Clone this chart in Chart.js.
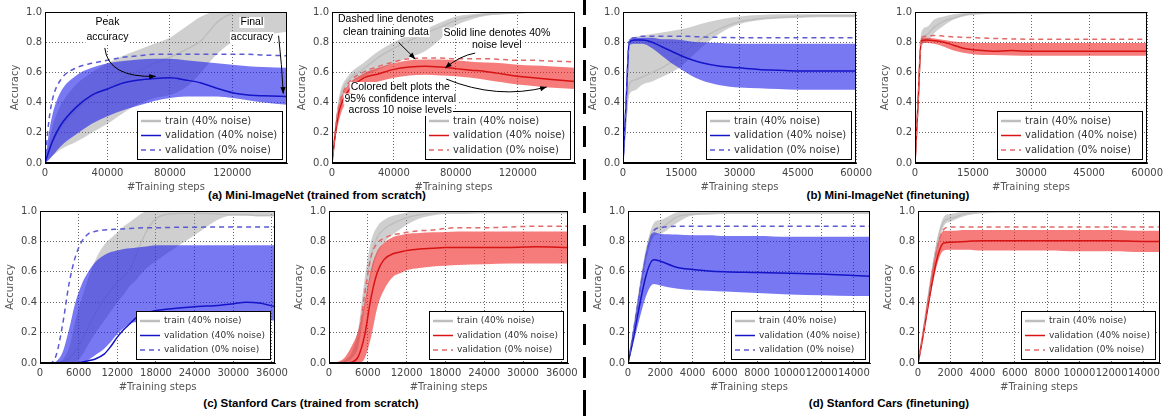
<!DOCTYPE html>
<html>
<head>
<meta charset="utf-8">
<script src="https://cdn.jsdelivr.net/npm/chart.js@4.4.1/dist/chart.umd.min.js"></script>
<style>
  body { margin: 0; width: 1172px; height: 416px; background: #fff; position: relative; overflow: hidden; font-family: "Liberation Sans", Arial, sans-serif; }
  canvas { position: absolute; }
  .cap { position: absolute; font-weight: bold; font-size: 11.5px; white-space: nowrap; transform: translate(-50%, -50%); color: #000; }
  .sep { position: absolute; left: 583px; top: 0; width: 3px; height: 416px;
         background: repeating-linear-gradient(to bottom, #000 0, #000 21px, transparent 21px, transparent 33px);
         background-position: 0 -6px; }
</style>
</head>
<body>
<div class="sep"></div>
<div class="cap" style="left:317px;top:195px">(a) Mini-ImageNet (trained from scratch)</div>
<div class="cap" style="left:888px;top:195px">(b) Mini-ImageNet (finetuning)</div>
<div class="cap" style="left:311px;top:403px">(c) Stanford Cars (trained from scratch)</div>
<div class="cap" style="left:889px;top:403px">(d) Stanford Cars (finetuning)</div>
<script>
// legend labels, same in every panel
const legendLabels = ["train (40% noise)", "validation (40% noise)", "validation (0% noise)"];

// tick values
const yTicks = [0, 0.2, 0.4, 0.6, 0.8, 1.0];
const aTicks = [0, 40000, 80000, 120000];
const bTicks = [0, 15000, 30000, 45000, 60000];
const cTicks = [0, 6000, 12000, 18000, 24000, 30000, 36000];
const dTicks = [0, 2000, 4000, 6000, 8000, 10000, 12000, 14000];

// (a) Mini-ImageNet from scratch, left (blue)
const a1Steps   = [0, 2500, 5000, 10000, 20000, 30000, 40000, 50000, 60000, 70000, 80000, 90000, 100000, 110000, 120000, 130000, 140000, 155000];
const a1Train   = [0, 0.08, 0.14, 0.23, 0.35, 0.44, 0.5, 0.56, 0.61, 0.66, 0.7, 0.75, 0.81, 0.93, 0.99, 1, 1, 1];
const a1TrainLo = [0, 0.03, 0.05, 0.09, 0.14, 0.2, 0.26, 0.33, 0.39, 0.43, 0.45, 0.5, 0.6, 0.72, 0.8, 0.83, 0.85, 0.87];
const a1TrainHi = [0, 0.14, 0.25, 0.38, 0.52, 0.6, 0.66, 0.71, 0.75, 0.79, 0.83, 0.9, 0.97, 1, 1, 1, 1, 1];
const a1Noisy   = [0, 0.08, 0.15, 0.25, 0.37, 0.45, 0.49, 0.53, 0.55, 0.56, 0.565, 0.55, 0.53, 0.495, 0.465, 0.45, 0.445, 0.44];
const a1NoisyLo = [0, 0.02, 0.05, 0.11, 0.19, 0.26, 0.31, 0.35, 0.38, 0.41, 0.43, 0.44, 0.44, 0.44, 0.43, 0.415, 0.4, 0.385];
const a1NoisyHi = [0, 0.2, 0.33, 0.47, 0.58, 0.63, 0.66, 0.675, 0.685, 0.69, 0.69, 0.68, 0.67, 0.66, 0.65, 0.64, 0.635, 0.63];
const a1Clean   = [0, 0.28, 0.43, 0.55, 0.63, 0.66, 0.68, 0.7, 0.71, 0.72, 0.72, 0.72, 0.72, 0.72, 0.72, 0.72, 0.715, 0.71];

// (a) Mini-ImageNet from scratch, right (red)
const a2Steps   = [0, 2500, 5000, 10000, 20000, 30000, 40000, 50000, 60000, 70000, 80000, 90000, 100000, 110000, 120000, 130000, 140000, 157000];
const a2Train   = [0, 0.25, 0.42, 0.54, 0.62, 0.7, 0.76, 0.81, 0.86, 0.9, 0.945, 0.97, 0.985, 0.99, 0.995, 1, 1, 1];
const a2TrainLo = [0, 0.22, 0.38, 0.5, 0.57, 0.62, 0.66, 0.7, 0.74, 0.82, 0.91, 0.95, 0.975, 0.985, 0.99, 0.995, 0.995, 0.995];
const a2TrainHi = [0, 0.28, 0.46, 0.57, 0.66, 0.74, 0.8, 0.85, 0.885, 0.93, 0.97, 0.985, 0.995, 1, 1, 1, 1, 1];
const a2Noisy   = [0, 0.22, 0.36, 0.47, 0.56, 0.59, 0.62, 0.635, 0.64, 0.635, 0.625, 0.615, 0.605, 0.59, 0.575, 0.565, 0.555, 0.54];
const a2NoisyLo = [0, 0.18, 0.3, 0.42, 0.5, 0.54, 0.565, 0.58, 0.585, 0.58, 0.575, 0.565, 0.55, 0.535, 0.52, 0.51, 0.5, 0.49];
const a2NoisyHi = [0, 0.25, 0.4, 0.51, 0.59, 0.63, 0.66, 0.68, 0.685, 0.685, 0.68, 0.67, 0.665, 0.66, 0.65, 0.645, 0.64, 0.63];
const a2Clean   = [0, 0.25, 0.4, 0.52, 0.6, 0.64, 0.67, 0.69, 0.695, 0.695, 0.69, 0.69, 0.69, 0.685, 0.68, 0.68, 0.675, 0.67];

// (b) Mini-ImageNet finetuning
const bSteps    = [0, 800, 1600, 3000, 5000, 7500, 10000, 12500, 15000, 17500, 20000, 25000, 30000, 35000, 40000, 45000, 50000, 60000];
const b1Train   = [0, 0.3, 0.52, 0.55, 0.57, 0.6, 0.63, 0.67, 0.71, 0.77, 0.82, 0.89, 0.935, 0.955, 0.965, 0.97, 0.975, 0.975];
const b1TrainLo = [0, 0.25, 0.45, 0.48, 0.52, 0.54, 0.57, 0.6, 0.64, 0.7, 0.76, 0.86, 0.92, 0.945, 0.955, 0.96, 0.965, 0.965];
const b1TrainHi = [0, 0.4, 0.8, 0.835, 0.845, 0.855, 0.865, 0.875, 0.885, 0.9, 0.92, 0.95, 0.97, 0.98, 0.985, 0.985, 0.985, 0.985];
const b1Noisy   = [0, 0.4, 0.8, 0.815, 0.815, 0.8, 0.77, 0.74, 0.71, 0.685, 0.665, 0.64, 0.63, 0.62, 0.615, 0.61, 0.61, 0.61];
const b1NoisyLo = [0, 0.39, 0.78, 0.79, 0.79, 0.76, 0.71, 0.66, 0.62, 0.58, 0.55, 0.515, 0.5, 0.495, 0.49, 0.485, 0.485, 0.485];
const b1NoisyHi = [0, 0.41, 0.82, 0.83, 0.83, 0.83, 0.82, 0.82, 0.815, 0.805, 0.8, 0.795, 0.79, 0.79, 0.79, 0.79, 0.79, 0.79];
const b1Clean   = [0, 0.4, 0.81, 0.83, 0.84, 0.84, 0.84, 0.84, 0.84, 0.838, 0.835, 0.832, 0.83, 0.83, 0.83, 0.83, 0.83, 0.83];

const b2Train   = [0, 0.4, 0.8, 0.85, 0.9, 0.94, 0.96, 0.98, 0.99, 0.992, 0.993, 0.994, 0.995, 0.995, 0.995, 0.995, 0.995, 0.995];
const b2TrainLo = [0, 0.38, 0.76, 0.8, 0.86, 0.91, 0.95, 0.97, 0.98, 0.985, 0.99, 0.99, 0.99, 0.99, 0.99, 0.99, 0.99, 0.99];
const b2TrainHi = [0, 0.43, 0.86, 0.9, 0.95, 0.97, 0.985, 0.995, 1, 1, 1, 1, 1, 1, 1, 1, 1, 1];
const b2Noisy   = [0, 0.4, 0.81, 0.815, 0.81, 0.8, 0.78, 0.76, 0.75, 0.745, 0.74, 0.745, 0.74, 0.74, 0.74, 0.74, 0.74, 0.74];
const b2NoisyLo = [0, 0.39, 0.79, 0.795, 0.79, 0.77, 0.745, 0.73, 0.72, 0.715, 0.715, 0.712, 0.71, 0.71, 0.71, 0.71, 0.71, 0.71];
const b2NoisyHi = [0, 0.41, 0.83, 0.83, 0.825, 0.815, 0.805, 0.8, 0.795, 0.795, 0.795, 0.795, 0.795, 0.795, 0.795, 0.795, 0.795, 0.795];
const b2Clean   = [0, 0.4, 0.83, 0.84, 0.845, 0.84, 0.835, 0.832, 0.83, 0.828, 0.825, 0.822, 0.82, 0.82, 0.82, 0.82, 0.82, 0.82];

// (c) Stanford Cars from scratch
const c1Steps   = [0, 1500, 2500, 3500, 4500, 5500, 6500, 7500, 8500, 10000, 11000, 12000, 13000, 14000, 15000, 16000, 17000, 18000, 20000, 24000, 28000, 30000, 32000, 34000, 36500];
const c1Train   = [0, 0, 0, 0.01, 0.03, 0.08, 0.15, 0.24, 0.32, 0.42, 0.48, 0.53, 0.57, 0.62, 0.72, 0.82, 0.9, 0.95, 0.98, 0.985, 0.98, 0.975, 0.975, 0.97, 0.97];
const c1TrainLo = [0, 0, 0, 0, 0, 0.005, 0.05, 0.12, 0.19, 0.28, 0.34, 0.4, 0.45, 0.51, 0.55, 0.6, 0.64, 0.67, 0.73, 0.84, 0.95, 0.97, 0.97, 0.965, 0.965];
const c1TrainHi = [0, 0, 0, 0.02, 0.1, 0.28, 0.43, 0.56, 0.67, 0.78, 0.82, 0.86, 0.9, 0.93, 0.96, 0.99, 1, 1, 1, 1, 1, 1, 1, 1, 1];
const c1Noisy   = [0, 0, 0, 0, 0, 0, 0.005, 0.015, 0.025, 0.06, 0.11, 0.17, 0.22, 0.26, 0.3, 0.32, 0.335, 0.345, 0.355, 0.37, 0.38, 0.39, 0.4, 0.395, 0.37];
const c1NoisyLo = [0, 0, 0, 0, 0, 0, 0, 0.02, 0.05, 0.095, 0.14, 0.19, 0.23, 0.26, 0.27, 0.275, 0.28, 0.28, 0.28, 0.28, 0.28, 0.28, 0.28, 0.28, 0.28];
const c1NoisyHi = [0, 0, 0.01, 0.07, 0.22, 0.4, 0.52, 0.6, 0.66, 0.71, 0.73, 0.74, 0.75, 0.755, 0.76, 0.765, 0.77, 0.775, 0.775, 0.775, 0.775, 0.775, 0.775, 0.775, 0.775];
const c1Clean   = [0, 0, 0.05, 0.25, 0.52, 0.7, 0.8, 0.85, 0.865, 0.875, 0.878, 0.88, 0.882, 0.885, 0.887, 0.89, 0.89, 0.89, 0.892, 0.893, 0.895, 0.895, 0.895, 0.895, 0.895];

const c2Steps   = [0, 1500, 2500, 3500, 4500, 5500, 6500, 7500, 8500, 10000, 11000, 12000, 14000, 16000, 18000, 20000, 24000, 28000, 32000, 37000];
const c2Train   = [0, 0, 0.01, 0.04, 0.15, 0.45, 0.7, 0.83, 0.88, 0.92, 0.94, 0.955, 0.975, 0.985, 0.99, 0.99, 0.99, 0.99, 0.99, 0.99];
const c2TrainLo = [0, 0, 0.005, 0.03, 0.1, 0.35, 0.58, 0.72, 0.79, 0.85, 0.88, 0.91, 0.95, 0.97, 0.98, 0.98, 0.985, 0.985, 0.985, 0.985];
const c2TrainHi = [0, 0, 0.02, 0.07, 0.22, 0.55, 0.8, 0.9, 0.94, 0.97, 0.98, 0.99, 1, 1, 1, 1, 1, 1, 1, 1];
const c2Noisy   = [0, 0, 0, 0.005, 0.04, 0.18, 0.43, 0.6, 0.68, 0.72, 0.73, 0.74, 0.75, 0.755, 0.76, 0.76, 0.76, 0.76, 0.765, 0.76];
const c2NoisyLo = [0, 0, 0, 0, 0, 0.03, 0.17, 0.37, 0.48, 0.57, 0.59, 0.61, 0.625, 0.635, 0.64, 0.645, 0.65, 0.655, 0.655, 0.655];
const c2NoisyHi = [0, 0.01, 0.04, 0.11, 0.21, 0.4, 0.62, 0.74, 0.79, 0.83, 0.84, 0.85, 0.855, 0.86, 0.862, 0.865, 0.865, 0.865, 0.865, 0.865];
const c2Clean   = [0, 0, 0.01, 0.04, 0.15, 0.45, 0.7, 0.79, 0.82, 0.845, 0.85, 0.86, 0.87, 0.875, 0.885, 0.89, 0.89, 0.895, 0.9, 0.9];

// (d) Stanford Cars finetuning
const dSteps    = [0, 1600, 2000, 3000, 4000, 5000, 6000, 8000, 10000, 12000, 14000, 15000];
const d1Train   = [0, 0.88, 0.89, 0.96, 0.98, 0.985, 0.99, 0.99, 0.99, 0.99, 0.99, 0.99];
const d1TrainLo = [0, 0.83, 0.85, 0.92, 0.97, 0.975, 0.98, 0.98, 0.98, 0.98, 0.98, 0.98];
const d1TrainHi = [0, 0.92, 0.94, 0.99, 1, 1, 1, 1, 1, 1, 1, 1];
const d1Noisy   = [0, 0.68, 0.67, 0.63, 0.615, 0.605, 0.6, 0.595, 0.59, 0.585, 0.575, 0.57];
const d1NoisyLo = [0, 0.52, 0.51, 0.49, 0.48, 0.475, 0.47, 0.46, 0.45, 0.445, 0.44, 0.44];
const d1NoisyHi = [0, 0.86, 0.85, 0.845, 0.84, 0.84, 0.835, 0.835, 0.83, 0.83, 0.83, 0.83];
const d1Clean   = [0, 0.87, 0.89, 0.9, 0.9, 0.9, 0.9, 0.9, 0.9, 0.9, 0.9, 0.9];

const d2Train   = [0, 0.93, 0.95, 0.985, 0.99, 0.995, 0.995, 0.995, 0.995, 0.995, 0.995, 0.995];
const d2TrainLo = [0, 0.9, 0.93, 0.97, 0.985, 0.99, 0.99, 0.99, 0.99, 0.99, 0.99, 0.99];
const d2TrainHi = [0, 0.96, 0.98, 1, 1, 1, 1, 1, 1, 1, 1, 1];
const d2Noisy   = [0, 0.79, 0.795, 0.8, 0.805, 0.805, 0.805, 0.805, 0.805, 0.805, 0.8, 0.8];
const d2NoisyLo = [0, 0.74, 0.745, 0.745, 0.74, 0.74, 0.74, 0.74, 0.735, 0.735, 0.73, 0.73];
const d2NoisyHi = [0, 0.87, 0.87, 0.875, 0.875, 0.875, 0.875, 0.875, 0.875, 0.875, 0.87, 0.87];
const d2Clean   = [0, 0.88, 0.895, 0.895, 0.895, 0.895, 0.895, 0.895, 0.895, 0.895, 0.895, 0.895];

// annotations, placed in data coordinates
const a1Notes = {
  labels: [
    {at: [40000, 0.93], text: ["Peak", "accuracy"], lineHeight: 15},
    {at: [132500, 0.93], text: ["Final", "accuracy"], lineHeight: 15}
  ],
  arrows: [
    {from: [38300, 0.762], via: [40400, 0.563], to: [70900, 0.574]},
    {from: [149600, 0.843], via: [151700, 0.651], to: [152600, 0.459]}
  ]
};
const a2Notes = {
  labels: [
    {at: [34800, 0.956], text: ["Dashed line denotes", "clean training data"], lineHeight: 13},
    {at: [106500, 0.861], text: ["Solid line denotes 40%", "noise level"], lineHeight: 12.5},
    {at: [44100, 0.5], text: ["Colored belt plots the", "95% confidence interval", "across 10 noise levels"], lineHeight: 11.5}
  ],
  arrows: [
    {from: [43000, 0.799], via: [48400, 0.744], to: [53800, 0.689]},
    {from: [92500, 0.728], via: [82800, 0.711], to: [73100, 0.629]},
    {from: [73800, 0.556], via: [106500, 0.419], to: [138700, 0.503]}
  ]
};

const BLUE = {line: "rgb(20,20,200)", clean: "rgb(90,90,210)", band: "rgba(30,30,235,0.6)"};
const RED = {line: "rgb(215,20,20)", clean: "rgb(225,105,105)", band: "rgba(240,35,35,0.6)"};
const GREY = {line: "rgb(190,190,190)", band: "rgba(128,128,128,0.38)"};

const panels = [
  {box: {l: 45, t: 11, w: 242, h: 152}, xMax: 155000, xTicks: aTicks, look: BLUE, legendFont: 10, notes: a1Notes,
   steps: a1Steps, train: a1Train, trainLo: a1TrainLo, trainHi: a1TrainHi, noisy: a1Noisy, noisyLo: a1NoisyLo, noisyHi: a1NoisyHi, clean: a1Clean},
  {box: {l: 332, t: 11, w: 243, h: 152}, xMax: 157000, xTicks: aTicks, look: RED, legendFont: 10, notes: a2Notes,
   steps: a2Steps, train: a2Train, trainLo: a2TrainLo, trainHi: a2TrainHi, noisy: a2Noisy, noisyLo: a2NoisyLo, noisyHi: a2NoisyHi, clean: a2Clean},
  {box: {l: 623, t: 11, w: 243, h: 152}, xMax: 60000, xTicks: bTicks, look: BLUE, legendFont: 10,
   steps: bSteps, train: b1Train, trainLo: b1TrainLo, trainHi: b1TrainHi, noisy: b1Noisy, noisyLo: b1NoisyLo, noisyHi: b1NoisyHi, clean: b1Clean},
  {box: {l: 915, t: 11, w: 242, h: 152}, xMax: 60000, xTicks: bTicks, look: RED, legendFont: 10,
   steps: bSteps, train: b2Train, trainLo: b2TrainLo, trainHi: b2TrainHi, noisy: b2Noisy, noisyLo: b2NoisyLo, noisyHi: b2NoisyHi, clean: b2Clean},
  {box: {l: 40, t: 210, w: 242, h: 153}, xMax: 36500, xTicks: cTicks, look: BLUE, legendFont: 9,
   steps: c1Steps, train: c1Train, trainLo: c1TrainLo, trainHi: c1TrainHi, noisy: c1Noisy, noisyLo: c1NoisyLo, noisyHi: c1NoisyHi, clean: c1Clean},
  {box: {l: 329, t: 210, w: 243, h: 153}, xMax: 37000, xTicks: cTicks, look: RED, legendFont: 9,
   steps: c2Steps, train: c2Train, trainLo: c2TrainLo, trainHi: c2TrainHi, noisy: c2Noisy, noisyLo: c2NoisyLo, noisyHi: c2NoisyHi, clean: c2Clean},
  {box: {l: 628, t: 210, w: 242, h: 153}, xMax: 15000, xTicks: dTicks, look: BLUE, legendFont: 9,
   steps: dSteps, train: d1Train, trainLo: d1TrainLo, trainHi: d1TrainHi, noisy: d1Noisy, noisyLo: d1NoisyLo, noisyHi: d1NoisyHi, clean: d1Clean},
  {box: {l: 918, t: 210, w: 242, h: 153}, xMax: 15000, xTicks: dTicks, look: RED, legendFont: 9,
   steps: dSteps, train: d2Train, trainLo: d2TrainLo, trainHi: d2TrainHi, noisy: d2Noisy, noisyLo: d2NoisyLo, noisyHi: d2NoisyHi, clean: d2Clean}
];

// full black box around the plot area
const framePlugin = {
  id: "frame",
  afterDraw(chart) {
    const {ctx, chartArea: a} = chart;
    ctx.save();
    ctx.strokeStyle = "#000";
    ctx.lineWidth = 1;
    ctx.strokeRect(Math.round(a.left) + 0.5, Math.round(a.top) + 0.5, Math.round(a.width) - 1, Math.round(a.height) - 1);
    ctx.restore();
  }
};

// text labels with white boxes and curved arrows
const notesPlugin = {
  id: "notes",
  afterDraw(chart, args, opts) {
    if (!opts.labels) return;
    const {ctx, scales: {x, y}} = chart;
    const px = p => [x.getPixelForValue(p[0]), y.getPixelForValue(p[1])];
    ctx.save();
    ctx.font = '10.5px "Liberation Sans"';
    ctx.textAlign = "center";
    ctx.textBaseline = "middle";
    opts.labels.forEach(lb => {
      const [cx, cy] = px(lb.at);
      lb.text.forEach((line, i) => {
        const ly = cy + i * lb.lineHeight;
        const w = ctx.measureText(line).width;
        ctx.fillStyle = "#fff";
        ctx.fillRect(cx - w / 2 - 1, ly - 5.5, w + 2, 11);
        ctx.fillStyle = "#000";
        ctx.fillText(line, cx, ly);
      });
    });
    ctx.strokeStyle = "#000";
    ctx.fillStyle = "#000";
    ctx.lineWidth = 1;
    (opts.arrows || []).forEach(ar => {
      const p0 = px(ar.from), c = px(ar.via), p2 = px(ar.to);
      ctx.beginPath();
      ctx.moveTo(p0[0], p0[1]);
      ctx.quadraticCurveTo(c[0], c[1], p2[0], p2[1]);
      ctx.stroke();
      const ang = Math.atan2(p2[1] - c[1], p2[0] - c[0]);
      ctx.beginPath();
      ctx.moveTo(p2[0], p2[1]);
      ctx.lineTo(p2[0] - 7 * Math.cos(ang - 0.38), p2[1] - 7 * Math.sin(ang - 0.38));
      ctx.lineTo(p2[0] - 7 * Math.cos(ang + 0.38), p2[1] - 7 * Math.sin(ang + 0.38));
      ctx.closePath();
      ctx.fill();
    });
    ctx.restore();
  }
};

// matplotlib-like boxed legend in the lower right corner
const boxLegendPlugin = {
  id: "boxLegend",
  afterDraw(chart, args, opts) {
    const {ctx, chartArea: a} = chart;
    const items = chart.data.datasets.filter(d => d.label);
    ctx.save();
    ctx.font = opts.fontSize + 'px "DejaVu Sans"';
    const textW = Math.max(...items.map(d => ctx.measureText(d.label).width));
    const rowH = 14.5, pad = 2.25;
    const w = Math.round(4 + 20 + 4 + textW + 5), h = Math.round(rowH * items.length + pad * 2);
    const x = Math.round(a.right - 5 - w), y = Math.round(a.bottom - 4 - h);
    ctx.fillStyle = "#fff";
    ctx.fillRect(x, y, w, h);
    ctx.strokeStyle = "#000";
    ctx.lineWidth = 1;
    ctx.strokeRect(x + 0.5, y + 0.5, w, h);
    items.forEach((d, i) => {
      const cy = y + pad + rowH * (i + 0.5) + 0.5;
      ctx.strokeStyle = d.borderColor;
      ctx.lineWidth = d.legendWidth || d.borderWidth;
      ctx.setLineDash(d.borderDash || []);
      ctx.beginPath();
      ctx.moveTo(x + 4, cy);
      ctx.lineTo(x + 24, cy);
      ctx.stroke();
      ctx.setLineDash([]);
      ctx.fillStyle = "#333";
      ctx.textBaseline = "middle";
      ctx.fillText(d.label, x + 28, cy);
    });
    ctx.restore();
  }
};

function series(steps, values) {
  return steps.map((s, i) => ({x: s, y: values[i]}));
}

const tickFont = {family: "DejaVu Sans", size: 10};
const gridOpts = {color: "rgba(0,0,0,0.75)", lineWidth: 0.8, drawTicks: false};
const borderOpts = {color: "#000", width: 1, dash: [1, 2]};

function drawPanel(p) {
  const W = p.box.w + 44 + 10, H = p.box.h + 8 + 32;
  const cv = document.createElement("canvas");
  cv.width = W; cv.height = H;
  cv.style.width = W + "px"; cv.style.height = H + "px";
  cv.style.left = (p.box.l - 44) + "px";
  cv.style.top = (p.box.t - 8) + "px";
  document.body.appendChild(cv);

  const line = {pointRadius: 0, cubicInterpolationMode: "monotone", fill: false};
  const edge = {...line, borderWidth: 1, borderColor: "transparent"};

  return new Chart(cv, {
    type: "line",
    data: {
      datasets: [
        {...edge, data: series(p.steps, p.trainLo), order: 6},
        {...edge, data: series(p.steps, p.trainHi), fill: "-1", backgroundColor: GREY.band, order: 5},
        {...line, label: legendLabels[0], data: series(p.steps, p.train), borderColor: GREY.line, borderWidth: 1.5, legendWidth: 2.5, order: 4},
        {...edge, data: series(p.steps, p.noisyLo), order: 3},
        {...edge, data: series(p.steps, p.noisyHi), fill: "-1", backgroundColor: p.look.band, order: 2},
        {...line, label: legendLabels[1], data: series(p.steps, p.noisy), borderColor: p.look.line, borderWidth: 1.5, order: 1},
        {...line, label: legendLabels[2], data: series(p.steps, p.clean), borderColor: p.look.clean, borderWidth: 1.5, borderDash: [5, 4], order: 0}
      ]
    },
    options: {
      responsive: false,
      animation: false,
      events: [],
      layout: {padding: {top: 8, right: 10, left: 0, bottom: 0}},
      plugins: {
        legend: {display: false},
        tooltip: {enabled: false},
        notes: p.notes || false,
        boxLegend: {fontSize: p.legendFont}
      },
      scales: {
        x: {
          type: "linear", min: 0, max: p.xMax, z: 1,
          afterBuildTicks(s) { s.ticks = p.xTicks.map(v => ({value: v})); },
          afterFit(s) { s.height = 32; },
          grid: gridOpts, border: borderOpts,
          ticks: {autoSkip: false, maxRotation: 0, minRotation: 0,
                  padding: 4, color: "#444", font: tickFont, callback: v => String(v)},
          title: {display: true, text: "#Training steps", color: "#555", font: tickFont, padding: {top: 0, bottom: 2}}
        },
        y: {
          min: 0, max: 1, z: 1,
          afterBuildTicks(s) { s.ticks = yTicks.map(v => ({value: v})); },
          afterFit(s) { s.width = 44; },
          grid: gridOpts, border: borderOpts,
          ticks: {padding: 3, color: "#444", font: tickFont, callback: v => v.toFixed(1)},
          title: {display: true, text: "Accuracy", color: "#555", font: tickFont, padding: {top: 8, bottom: 0}}
        }
      }
    },
    plugins: [boxLegendPlugin, notesPlugin, framePlugin]
  });
}

panels.forEach(drawPanel);
</script>
</body>
</html>
